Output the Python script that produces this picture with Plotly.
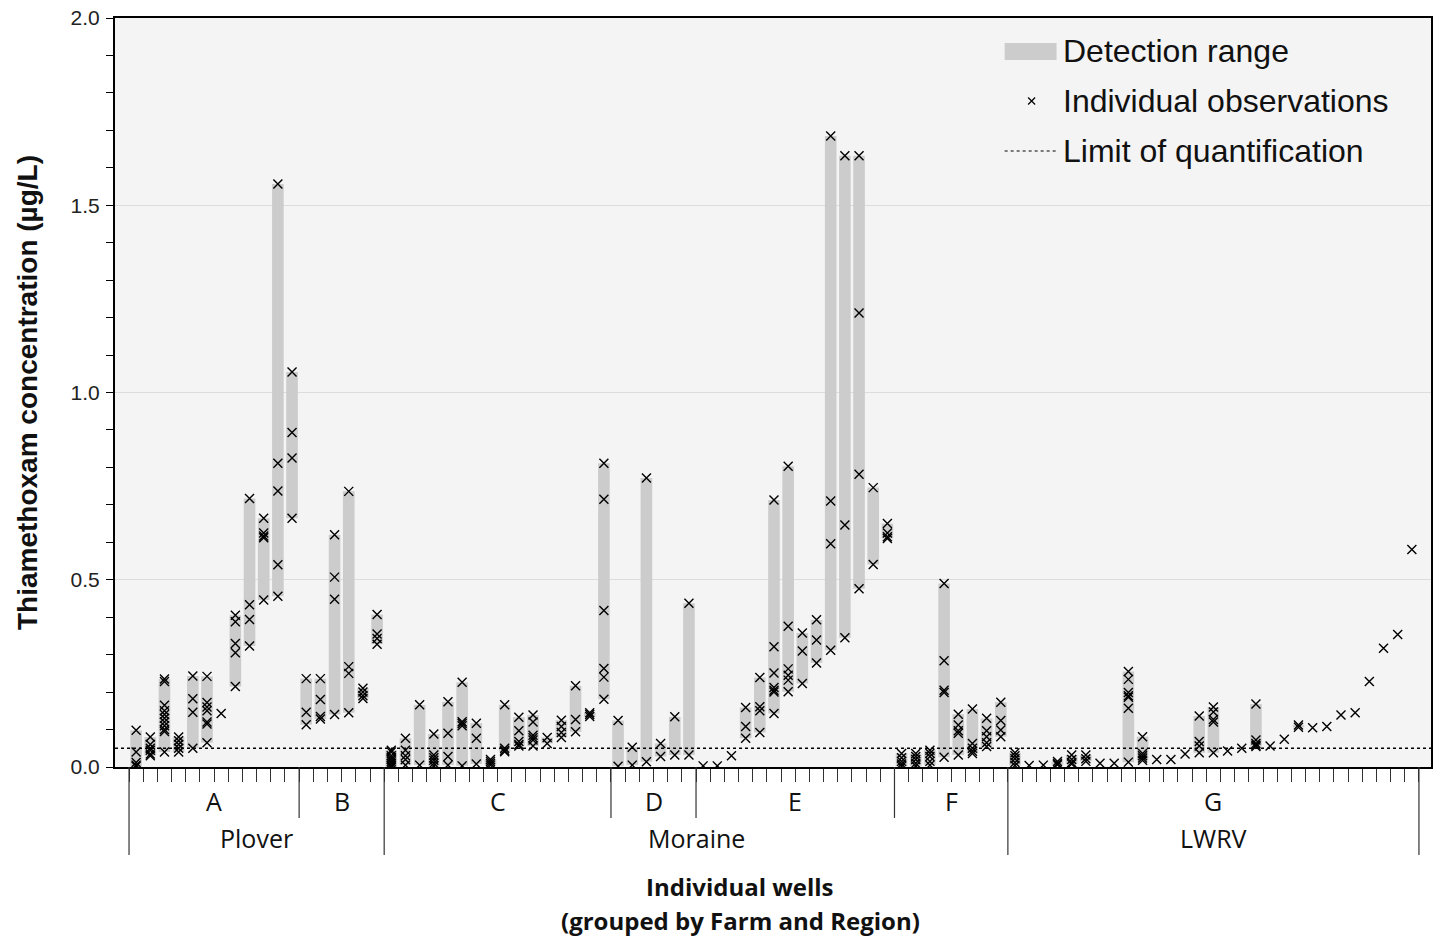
import plotly.graph_objects as go

# ---------------- data ----------------
farms = ["A", "B", "C", "D", "E", "F", "G"]
farm_region = ["Plover", "Plover", "Moraine", "Moraine", "Moraine", "Moraine", "LWRV"]

obs_A = [
    [0.098, 0.04, 0.012, 0.005, 0.002],
    [0.08, 0.06, 0.05, 0.045, 0.035, 0.03],
    [0.235, 0.228, 0.165, 0.15, 0.14, 0.13, 0.12, 0.11, 0.10, 0.095, 0.04],
    [0.08, 0.07, 0.06, 0.05, 0.04],
    [0.243, 0.182, 0.146, 0.05],
    [0.242, 0.172, 0.16, 0.15, 0.12, 0.115, 0.065],
    [0.143],
    [0.405, 0.388, 0.33, 0.305, 0.215],
    [0.717, 0.433, 0.394, 0.323],
    [0.664, 0.625, 0.617, 0.612, 0.446],
    [1.557, 0.811, 0.737, 0.54, 0.456],
    [1.055, 0.893, 0.825, 0.664],
]
obs_B = [
    [0.236, 0.146, 0.113],
    [0.236, 0.18, 0.135, 0.128],
    [0.62, 0.507, 0.448, 0.14],
    [0.736, 0.268, 0.25, 0.145],
    [0.21, 0.2, 0.19, 0.183],
    [0.407, 0.355, 0.343, 0.328],
]
obs_C = [
    [0.045, 0.04, 0.03, 0.025, 0.02, 0.015, 0.01, 0.005, 0.0],
    [0.077, 0.045, 0.03, 0.02, 0.005],
    [0.166, 0.005],
    [0.088, 0.032, 0.025, 0.018, 0.01, 0.003],
    [0.174, 0.09, 0.028, 0.005],
    [0.226, 0.121, 0.116, 0.11, 0.003],
    [0.117, 0.077, 0.008],
    [0.02, 0.015, 0.01, 0.005],
    [0.166, 0.05, 0.045, 0.041],
    [0.133, 0.097, 0.068, 0.06, 0.056],
    [0.139, 0.12, 0.085, 0.078, 0.072, 0.056],
    [0.079, 0.063],
    [0.125, 0.108, 0.092, 0.079],
    [0.217, 0.127, 0.094],
    [0.145, 0.14, 0.135],
    [0.811, 0.715, 0.418, 0.263, 0.24, 0.181],
]
obs_D = [
    [0.124, 0.002],
    [0.053, 0.005],
    [0.772, 0.014],
    [0.063, 0.028],
    [0.134, 0.032],
    [0.437, 0.032],
]
obs_E = [
    [0.003],
    [0.003],
    [0.03],
    [0.159, 0.108, 0.077],
    [0.239, 0.161, 0.15, 0.092],
    [0.713, 0.321, 0.251, 0.212, 0.205, 0.2, 0.143],
    [0.803, 0.376, 0.262, 0.245, 0.232, 0.201],
    [0.358, 0.31, 0.223],
    [0.393, 0.339, 0.278],
    [1.685, 0.71, 0.596, 0.312],
    [1.632, 0.646, 0.345],
    [1.632, 1.212, 0.782, 0.476],
    [0.746, 0.541],
    [0.65, 0.625, 0.615, 0.61],
]
obs_F = [
    [0.036, 0.025, 0.015, 0.008, 0.002],
    [0.036, 0.028, 0.02, 0.01, 0.003],
    [0.045, 0.037, 0.028, 0.015, 0.005],
    [0.49, 0.284, 0.205, 0.199, 0.026],
    [0.141, 0.112, 0.097, 0.09, 0.032],
    [0.155, 0.063, 0.05, 0.042, 0.036],
    [0.13, 0.097, 0.081, 0.065, 0.055],
    [0.173, 0.124, 0.099, 0.081],
]
obs_G = [
    [0.038, 0.03, 0.022, 0.012, 0.004],
    [0.004],
    [0.005],
    [0.015, 0.01, 0.006],
    [0.032, 0.02, 0.012, 0.008],
    [0.032, 0.022, 0.015],
    [0.01],
    [0.01],
    [0.255, 0.234, 0.199, 0.19, 0.186, 0.157, 0.013],
    [0.081, 0.036, 0.03, 0.024, 0.018],
    [0.02],
    [0.02],
    [0.035],
    [0.136, 0.068, 0.056, 0.038],
    [0.16, 0.147, 0.127, 0.12, 0.038],
    [0.043],
    [0.05],
    [0.168, 0.072, 0.063, 0.058, 0.055],
    [0.056],
    [0.074],
    [0.112, 0.106],
    [0.105],
    [0.108],
    [0.139],
    [0.145],
    [0.228],
    [0.317],
    [0.354],
    [0.581],
]
loq = 0.05
y_ticks = [0.0, 0.5, 1.0, 1.5, 2.0]

groups = [obs_A, obs_B, obs_C, obs_D, obs_E, obs_F, obs_G]

# ---------------- build series ----------------
bar_x, bar_base, bar_h = [], [], []
pt_x, pt_y = [], []
farm_start, farm_end = [], []
well = 0
for g in groups:
    farm_start.append(well)
    for o in g:
        bar_x.append(well)
        bar_base.append(min(o))
        bar_h.append(max(o) - min(o))
        for v in o:
            pt_x.append(well)
            pt_y.append(v)
        well += 1
    farm_end.append(well - 1)
n_wells = well

fig = go.Figure()
fig.add_trace(go.Bar(
    x=bar_x, y=bar_h, base=bar_base, width=0.82,
    marker=dict(color="#cccccc", line=dict(width=0)),
    name="Detection range", showlegend=False, hoverinfo="skip",
))
fig.add_trace(go.Scatter(
    x=pt_x, y=pt_y, mode="markers",
    marker=dict(symbol="x-thin", size=9, color="black",
                line=dict(width=1.4, color="black")),
    name="Individual observations", showlegend=False,
))

shapes = []
# limit of quantification
shapes.append(dict(type="line", xref="paper", yref="y", x0=0, x1=1, y0=loq, y1=loq,
                   line=dict(color="black", width=1.5, dash="dot"), layer="above"))

# group separators under the axis
region_bounds = set()
region_bounds.add(farm_start[0] - 0.5)
for k in range(1, len(farms)):
    if farm_region[k] != farm_region[k - 1]:
        region_bounds.add(farm_start[k] - 0.5)
region_bounds.add(farm_end[-1] + 0.5)
farm_bounds = set(s - 0.5 for s in farm_start) | set(e + 0.5 for e in farm_end)
for b in sorted(farm_bounds | region_bounds):
    y1 = -0.1175 if b in region_bounds else -0.068
    shapes.append(dict(type="line", xref="x", yref="paper", x0=b, x1=b, y0=0, y1=y1,
                       line=dict(color="#333333", width=1.2)))

annotations = []
lab_font = dict(family="Open Sans", size=25, color="#111111")
for k, f in enumerate(farms):
    annotations.append(dict(x=(farm_start[k] + farm_end[k]) / 2, xref="x",
                            y=-0.0454, yref="paper", text=f, showarrow=False,
                            font=lab_font, xanchor="center", yanchor="middle"))
# regions
reg_names, reg_lo, reg_hi = [], [], []
for k, r in enumerate(farm_region):
    if not reg_names or reg_names[-1] != r:
        reg_names.append(r); reg_lo.append(farm_start[k]); reg_hi.append(farm_end[k])
    else:
        reg_hi[-1] = farm_end[k]
for r, lo, hi in zip(reg_names, reg_lo, reg_hi):
    annotations.append(dict(x=(lo + hi) / 2, xref="x", y=-0.0948, yref="paper", text=r,
                            showarrow=False, font=lab_font, xanchor="center", yanchor="middle"))

# x-axis title (two lines)
tfont = dict(family="Open Sans", size=24, color="#111111")
annotations.append(dict(x=0.4753, xref="paper", y=-0.1595, yref="paper",
                        text="<b>Individual wells</b>", showarrow=False, font=tfont,
                        xanchor="center", yanchor="middle"))
annotations.append(dict(x=0.4753, xref="paper", y=-0.2048, yref="paper",
                        text="<b>(grouped by Farm and Region)</b>", showarrow=False, font=tfont,
                        xanchor="center", yanchor="middle"))

# legend (drawn manually)
PW = 1318.0
PH = 749.0
def px(X):
    return (X - 115) / PW
def py(Y):
    return (767 - Y) / PH
shapes.append(dict(type="rect", xref="paper", yref="paper", x0=px(1006), x1=px(1058),
                   y0=py(60), y1=py(43), fillcolor="#cccccc", line=dict(width=0)))
shapes.append(dict(type="line", xref="paper", yref="paper", x0=px(1006), x1=px(1058),
                   y0=py(151), y1=py(151), line=dict(color="black", width=1, dash="dot")))
leg_font = dict(family="Liberation Sans, Arial", size=32, color="#111111")
for txt, Y in [("Detection range", 51), ("Individual observations", 101),
               ("Limit of quantification", 151)]:
    annotations.append(dict(x=px(1062), xref="paper", y=py(Y), yref="paper", text=txt,
                            showarrow=False, font=leg_font, xanchor="left", yanchor="middle"))

# legend x glyph on an overlay axis in paper-like units
fig.add_trace(go.Scatter(
    x=[px(1033)], y=[py(101)], mode="markers", xaxis="x2", yaxis="y2",
    marker=dict(symbol="x-thin", size=7, color="black", line=dict(width=1.2, color="black")),
    showlegend=False, hoverinfo="skip",
))

fig.update_layout(
    width=1439, height=936,
    margin=dict(l=115, r=6, t=18, b=169),
    paper_bgcolor="white", plot_bgcolor="#f4f4f4",
    showlegend=False, barmode="overlay",
    shapes=shapes, annotations=annotations,
    xaxis=dict(range=[-1.49, n_wells + 0.35], showgrid=False, zeroline=False,
               tickmode="array", tickvals=[i - 0.5 for i in range(n_wells + 1)],
               ticks="outside", ticklen=13, tickwidth=1.2, tickcolor="#333333",
               showticklabels=False, showline=True, linecolor="black", linewidth=2,
               mirror=True),
    yaxis=dict(range=[0, 2.0], tickmode="array", tickvals=y_ticks,
               ticktext=["%.1f" % v for v in y_ticks],
               ticks="outside", ticklen=7, tickwidth=1.2, tickcolor="black",
               minor=dict(dtick=0.1, ticks="outside", ticklen=7, tickwidth=1.2,
                          tickcolor="black", showgrid=False),
               showgrid=True, gridcolor="#dcdcdc", gridwidth=1, zeroline=False,
               showline=True, linecolor="black", linewidth=2, mirror=True,
               ticklabelstandoff=2,
               tickfont=dict(family="Liberation Sans, Arial", size=21, color="#222222"),
               title=dict(text="<b>Thiamethoxam concentration (µg/L)</b>",
                          font=dict(family="Liberation Sans, Arial", size=28, color="#111111"),
                          standoff=25)),
    xaxis2=dict(overlaying="x", range=[0, 1], visible=False),
    yaxis2=dict(overlaying="y", range=[0, 1], visible=False),
)

fig.write_html("out.html", config={"displayModeBar": False},
               post_script="document.body.style.margin='0';")
